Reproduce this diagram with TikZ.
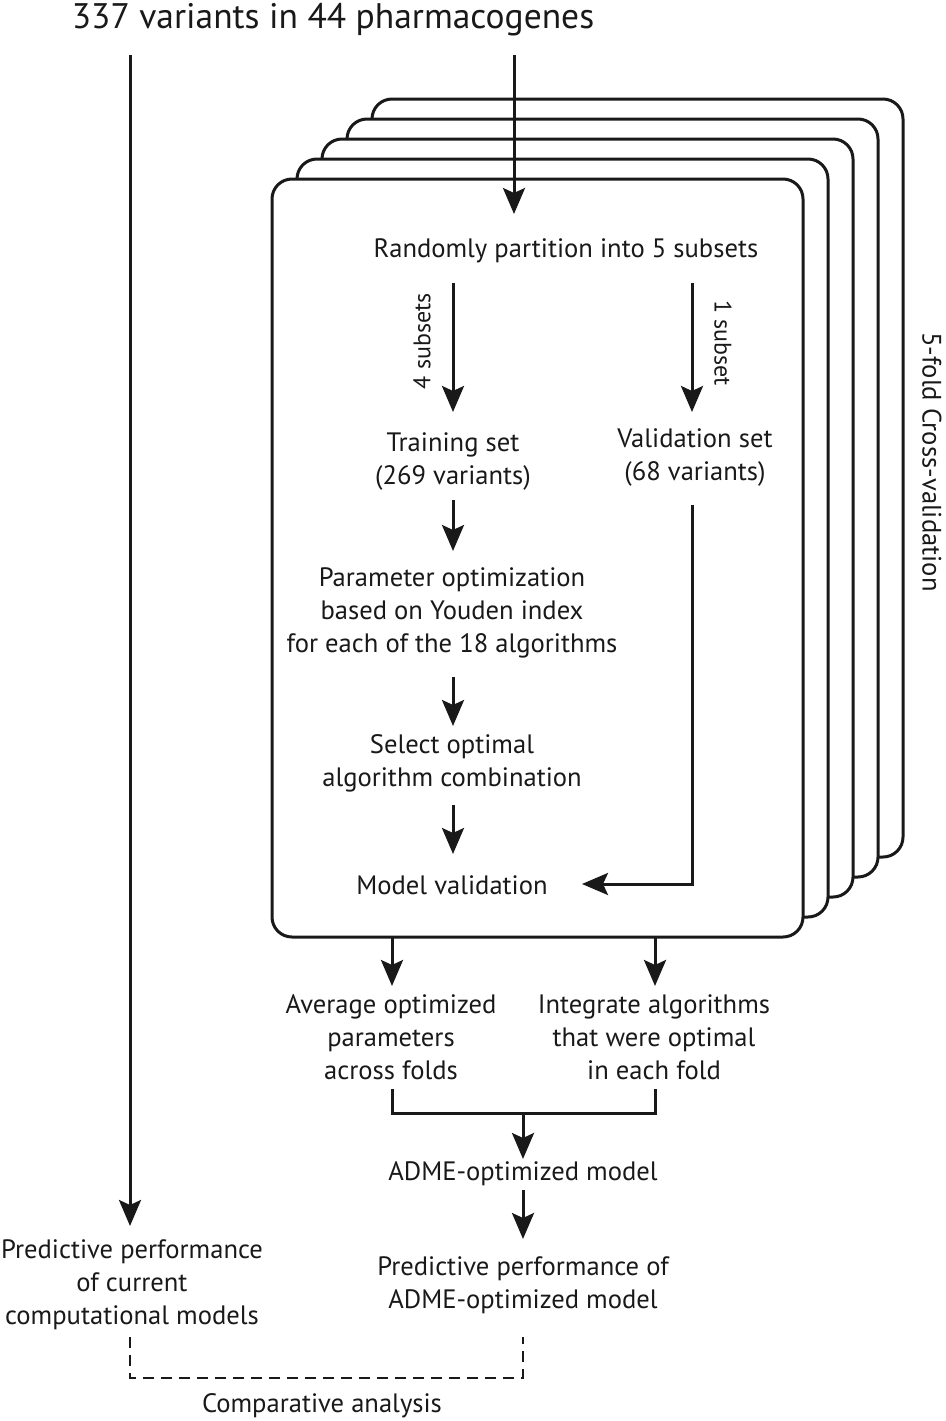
\documentclass[tikz,border=0pt]{standalone}
\usepackage{fontspec}
\setmainfont{PT Sans}
\usetikzlibrary{arrows.meta}
\tikzset{
  card/.style={draw=black!90, line width=3pt, fill=white, rounded corners=20pt},
  txt/.style={align=center, inner sep=0pt, text=black!90, font=\fontsize{26.6}{33}\selectfont},
  small/.style={font=\fontsize{24}{30}\selectfont},
  arr/.style={line width=3pt, draw=black!90, -{Stealth[length=26pt,width=22pt,inset=5pt]}},
  ln/.style={line width=3pt, draw=black!90},
  dsh/.style={line width=2.5pt, draw=black!90, dash pattern=on 11pt off 7pt},
}
\begin{document}
\begin{tikzpicture}[x=1pt,y=-1pt]
\useasboundingbox (0,0) rectangle (945,1421);
% cards back to front
\foreach \i in {4,3,2,1,0}{
  \draw[card] ({272+25*\i},{179-20*\i}) rectangle ({803+25*\i},{937-20*\i});
}
% title
\node[txt, font=\fontsize{35.5}{40}\selectfont, anchor=base] (title) at (333,29) {337 variants in 44 pharmacogenes};
\node[txt, rotate=-90] (cv) at (932,462) {5-fold Cross-validation};
% inside card
\node[txt] (part) at (566,251) {Randomly partition into 5 subsets};
\node[txt] (train) at (453,462) {Training set\\(269 variants)};
\node[txt] (valid) at (695,458) {Validation set\\(68 variants)};
\node[txt] (param) at (452,613) {Parameter optimization\\based on Youden index\\for each of the 18 algorithms};
\node[txt] (select) at (452,763) {Select optimal\\algorithm combination};
\node[txt] (model) at (452,885) {Model validation};
\node[txt, small, rotate=90] (four) at (422,341) {4 subsets};
\node[txt, small, rotate=-90] (one) at (723,343) {1 subset};
% below card
\node[txt] (avg) at (391,1037) {Average optimized\\parameters\\across folds};
\node[txt] (integ) at (654,1037) {Integrate algorithms\\that were optimal\\in each fold};
\node[txt] (adme) at (523,1174) {ADME-optimized model};
\node[txt] (predA) at (523,1285) {Predictive performance of\\ADME-optimized model};
\node[txt] (predC) at (132,1285) {Predictive performance\\of current\\computational models};
\node[txt] (comp) at (322,1406) {Comparative analysis};
% coordinates
\coordinate (tL) at (130,55);
\coordinate (tR) at (514,55);
\coordinate (bend) at (692,884);
\coordinate (brL) at (392,1113);
\coordinate (brR) at (655,1113);
\coordinate (brM) at (523,1113);
% arrows
\draw[arr] (tL) -- (130,1226);
\draw[arr] (tR) -- (514,214);
\draw[arr] (453,283) -- (453,412);
\draw[arr] (692,283) -- (692,412);
\draw[arr] (453,500) -- (453,551);
\draw[arr] (453,677) -- (453,726);
\draw[arr] (453,805) -- (453,854);
\draw[arr] (692,505) -- (bend) -- (582,884);
\draw[arr] (392,937) -- (392,986);
\draw[arr] (655,937) -- (655,986);
\draw[ln] (392,1089) -- (brL) -- (brR) -- (655,1089);
\draw[arr] (brM) -- (523,1159);
\draw[arr] (523,1190) -- (523,1239);
\draw[dsh] (130,1337) -- (130,1378) -- (523,1378) -- (523,1337);
\end{tikzpicture}
\end{document}
